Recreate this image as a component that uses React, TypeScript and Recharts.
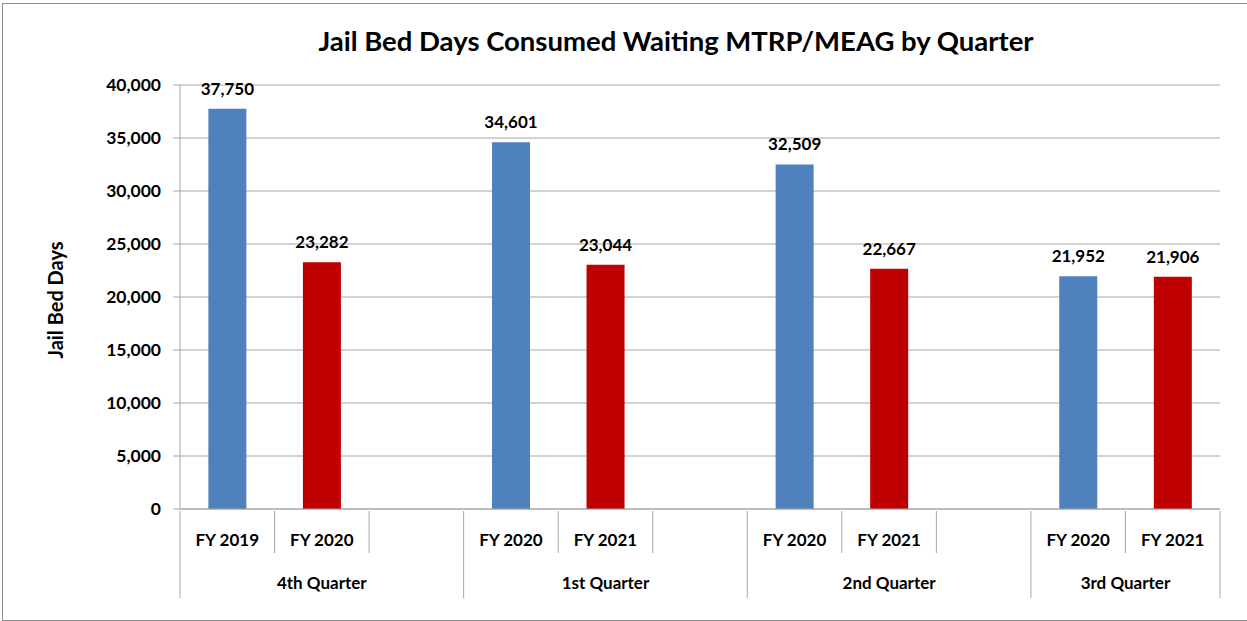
import { BarChart, Bar, XAxis, YAxis, CartesianGrid, Cell, LabelList } from "recharts";

const CATEGORIES = [
  "FY 2019", "FY 2020", "",
  "FY 2020", "FY 2021", "",
  "FY 2020", "FY 2021", "",
  "FY 2020", "FY 2021",
];
const VALUES = [37750, 23282, null, 34601, 23044, null, 32509, 22667, null, 21952, 21906];
const SERIES = ["prev", "curr", "none", "prev", "curr", "none", "prev", "curr", "none", "prev", "curr"];
const QUARTERS = ["4th Quarter", "1st Quarter", "2nd Quarter", "3rd Quarter"];
const GROUP_SIZES = [3, 3, 3, 2];
const Y_TICKS = [0, 5000, 10000, 15000, 20000, 25000, 30000, 35000, 40000];

const COLORS: Record<string, string> = { prev: "#4F81BD", curr: "#C00000", none: "transparent" };
const FONT = "Lato, 'Open Sans', sans-serif";
const GRID = "#A6A6A6";

const data = CATEGORIES.map((year, i) => ({ year, value: VALUES[i], series: SERIES[i] }));

// index of the first slot of each quarter group
const groupStarts = GROUP_SIZES.reduce<number[]>((acc, size, i) => {
  acc.push(i === 0 ? 0 : acc[i - 1] + GROUP_SIZES[i - 1]);
  return acc;
}, []);

const fmt = (v: number) => v.toLocaleString("en-US");

function TwoLevelTick(props: any) {
  const { x, y, payload, index } = props;
  const half = payload?.offset ?? 47;
  const left = x - half;
  const right = x + half;
  const g = groupStarts.indexOf(index);
  const isLast = index === CATEGORIES.length - 1;
  const nextIsGroup = groupStarts.includes(index + 1);
  return (
    <g>
      {payload.value && (
        <text x={x} y={y + 35} textAnchor="middle" fontFamily={FONT} fontWeight={700} fontSize={17} fill="#000">
          {payload.value}
        </text>
      )}
      {!nextIsGroup && !isLast && <line x1={right} y1={y} x2={right} y2={y + 42} stroke={GRID} />}
      {g >= 0 && <line x1={left} y1={y} x2={left} y2={y + 87} stroke={GRID} />}
      {isLast && <line x1={right} y1={y} x2={right} y2={y + 87} stroke={GRID} />}
      {g >= 0 && (
        <text
          x={left + half * GROUP_SIZES[g]}
          y={y + 78}
          textAnchor="middle"
          fontFamily={FONT}
          fontWeight={700}
          fontSize={17}
          fill="#000"
        >
          {QUARTERS[g]}
        </text>
      )}
    </g>
  );
}

export default function App() {
  return (
    <div style={{ position: "absolute", left: 0, top: 0, width: 1247, height: 621, background: "#fff" }}>
      <div
        style={{
          position: "absolute",
          left: 2,
          top: 3,
          width: 1250,
          height: 616,
          border: "1px solid #8C8C8C",
        }}
      />
      <div
        style={{
          position: "absolute",
          left: 0,
          width: 1352,
          top: 24,
          textAlign: "center",
          fontFamily: FONT,
          fontWeight: 700,
          fontSize: 27.5,
          color: "#000",
        }}
      >
        Jail Bed Days Consumed Waiting MTRP/MEAG by Quarter
      </div>
      <div
        style={{
          position: "absolute",
          left: 55,
          top: 300,
          transform: "translate(-50%, -50%) rotate(-90deg)",
          whiteSpace: "nowrap",
          fontFamily: FONT,
          fontWeight: 700,
          fontSize: 20,
          color: "#000",
        }}
      >
        Jail Bed Days
      </div>
      <BarChart
        width={1247}
        height={621}
        data={data}
        margin={{ top: 85, right: 27, bottom: 12, left: 0 }}
        barCategoryGap="30%"
        style={{ position: "absolute", left: 0, top: 0 }}
      >
        <CartesianGrid vertical={false} stroke={GRID} />
        <XAxis
          dataKey="year"
          height={100}
          interval={0}
          stroke={GRID}
          tickLine={false}
          tickSize={0}
          tick={<TwoLevelTick />}
        />
        <YAxis
          width={180}
          domain={[0, 40000]}
          ticks={Y_TICKS}
          tickFormatter={fmt}
          stroke={GRID}
          tickSize={7}
          tickMargin={12}
          tick={{ fill: "#000", fontFamily: FONT, fontWeight: 700, fontSize: 17.5 }}
        />
        <Bar dataKey="value" isAnimationActive={false}>
          {data.map((d, i) => (
            <Cell key={`cell-${i}`} fill={COLORS[d.series]} />
          ))}
          <LabelList
            dataKey="value"
            position="top"
            offset={14}
            formatter={(v: any) => (v == null ? "" : fmt(v))}
            style={{ fill: "#000", fontFamily: FONT, fontWeight: 700, fontSize: 17 }}
          />
        </Bar>
      </BarChart>
    </div>
  );
}
